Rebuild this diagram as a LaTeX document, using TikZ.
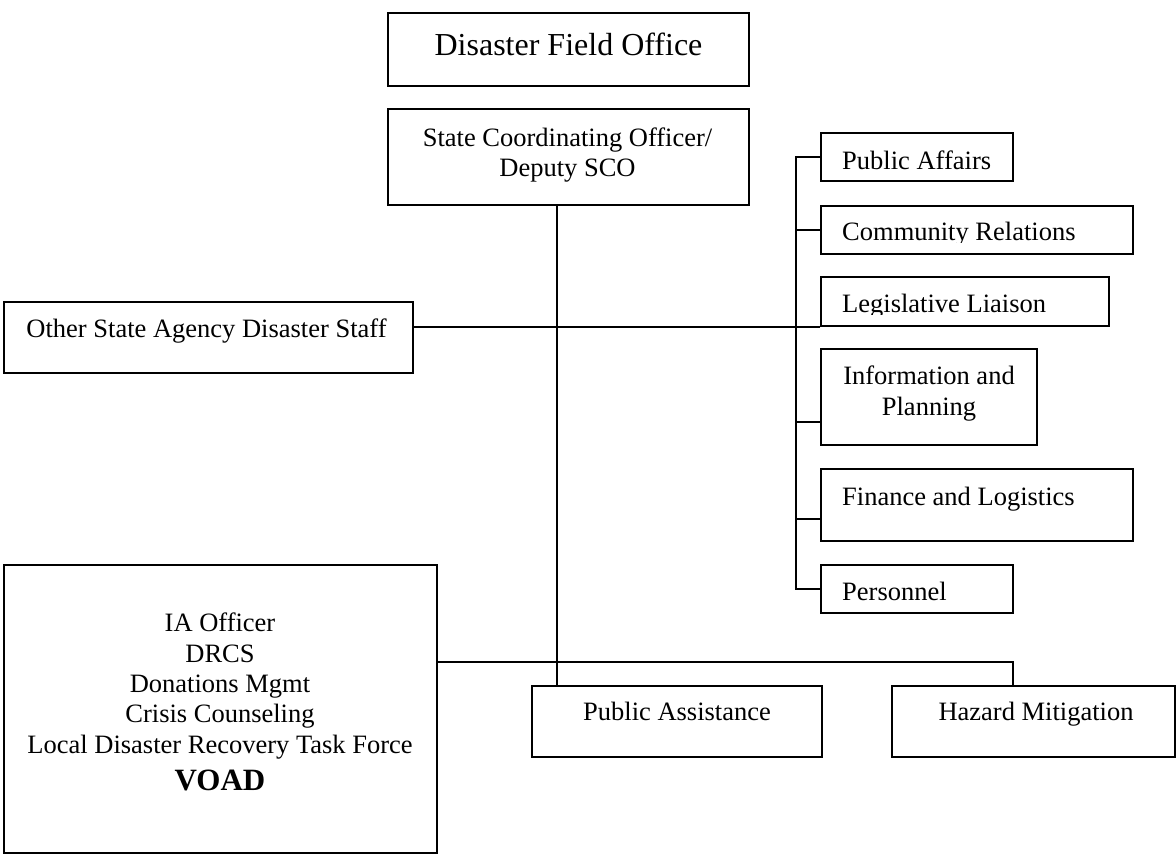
\documentclass[tikz,border=0pt]{standalone}
\usepackage{fontspec}
\setmainfont{Liberation Serif}
\begin{document}
\begin{tikzpicture}[x=1pt,y=-1pt,
  box/.style={draw=black, line width=1.6pt, fill=white, rectangle, inner sep=0pt},
  link/.style={draw=black, line width=1.6pt},
  txt/.style={inner sep=0pt, font=\fontsize{26.5}{30}\selectfont},
  bigtxt/.style={inner sep=0pt, font=\fontsize{32}{36}\selectfont},
  boldtxt/.style={inner sep=0pt, font=\fontsize{31}{34}\selectfont\bfseries}]

% page frame
\useasboundingbox (0,0) rectangle (1176,857);
\fill[white] (0,0) rectangle (1176,857);

% boxes
\node[box, minimum width=361pt, minimum height=73pt] (dfo)   at (568.5,49.5) {};
\node[box, minimum width=361pt, minimum height=96pt] (sco)   at (568.5,157)  {};
\node[box, minimum width=409pt, minimum height=71pt] (other) at (208.5,337.5) {};
\node[box, minimum width=192pt, minimum height=48pt] (pa)    at (917,157)    {};
\node[box, minimum width=312pt, minimum height=48pt] (cr)    at (977,230)    {};
\node[box, minimum width=288pt, minimum height=49pt] (ll)    at (965,301.5)  {};
\node[box, minimum width=216pt, minimum height=96pt] (ip)    at (929,397)    {};
\node[box, minimum width=312pt, minimum height=72pt] (fl)    at (977,505)    {};
\node[box, minimum width=192pt, minimum height=48pt] (pe)    at (917,589)    {};
\node[box, minimum width=433pt, minimum height=288pt] (voad) at (220.5,709)  {};
\node[box, minimum width=290pt, minimum height=71pt] (pas)   at (677,721.5)  {};
\node[box, minimum width=283pt, minimum height=71pt] (hm)    at (1033.5,721.5) {};

% connectors
\draw[link] (pa.west) -- ++(-24,0) |- (pe.west);
\draw[link] (cr.west) -- ++(-24,0);
\draw[link] ([yshift=24pt]ip.south west) -- ++(-24,0);
\draw[link] ([yshift=23pt]fl.south west) -- ++(-24,0);
\draw[link] (ll.south west) -- (ll.south west -| other.east);
\draw[link] ([xshift=-11.5pt]sco.south) -- ([xshift=-11.5pt]sco.south |- pas.north);
\draw[link] ([yshift=47pt]voad.east) -| ([xshift=-20.5pt]hm.north);

% labels
\node[bigtxt, anchor=base] (dfo-t) at (568.5,55) {Disaster Field Office};
\node[txt, anchor=base] (sco-t1) at (567.5,146) {State Coordinating Officer/};
\node[txt, anchor=base] (sco-t2) at (567.5,176) {Deputy SCO};
\node[txt, anchor=base] (other-t) at (206.5,337) {Other State Agency Disaster Staff};
\node[txt, anchor=base west] (pa-t) at (842,169) {Public Affairs};
\begin{scope}
  \clip (cr.north west) rectangle ([yshift=12.5pt]cr.south east);
  \node[txt, anchor=base west] (cr-t) at (842,240) {Community Relations};
\end{scope}
\begin{scope}
  \clip (ll.north west) rectangle ([yshift=12.3pt]ll.south east);
  \node[txt, anchor=base west] (ll-t) at (842,312.5) {Legislative Liaison};
\end{scope}
\node[txt, anchor=base] (ip-t1) at (929,384.5) {Information and};
\node[txt, anchor=base] (ip-t2) at (929,415) {Planning};
\node[txt, anchor=base west] (fl-t) at (842,505) {Finance and Logistics};
\node[txt, anchor=base west] (pe-t) at (842,600) {Personnel};
\node[txt, anchor=base] (voad-t1) at (220,631) {IA Officer};
\node[txt, anchor=base] (voad-t2) at (220,662) {DRCS};
\node[txt, anchor=base] (voad-t3) at (220,692) {Donations Mgmt};
\node[txt, anchor=base] (voad-t4) at (220,722) {Crisis Counseling};
\node[txt, anchor=base] (voad-t5) at (220,753) {Local Disaster Recovery Task Force};
\node[boldtxt, anchor=base] (voad-t6) at (220,790) {VOAD};
\node[txt, anchor=base] (pas-t) at (677,720) {Public Assistance};
\node[txt, anchor=base] (hm-t) at (1036,720) {Hazard Mitigation};
\end{tikzpicture}
\end{document}
